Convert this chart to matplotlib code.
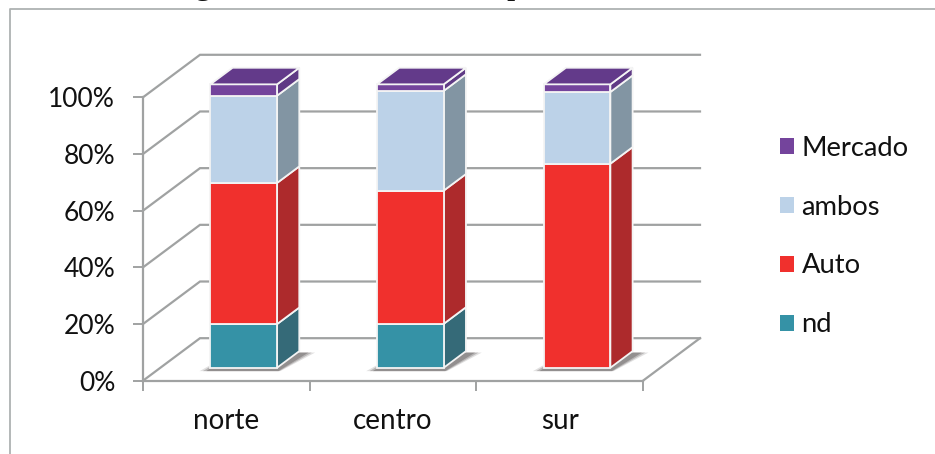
import matplotlib
matplotlib.use('Agg')
import matplotlib.pyplot as plt
from matplotlib.lines import Line2D
from matplotlib.patches import Polygon, Patch

plt.rcParams['font.family'] = ['Lato', 'DejaVu Sans']

regiones = ['norte', 'centro', 'sur']
series = ['nd', 'Auto', 'ambos', 'Mercado']
nd = [15.4, 15.5, 0]
auto = [49.8, 47.0, 72.0]
ambos = [30.8, 35.2, 25.3]
mercado = [4.0, 2.3, 2.7]
valores = [nd, auto, ambos, mercado]

c_frente = ['#3592a6', '#f0302d', '#bcd2e8', '#74449c']
c_lado = ['#356a78', '#ad2a2c', '#8295a3', '#5f3a85']
c_tapa = '#633a8a'
gris = '#a0a2a2'

# proyeccion oblicua: d=0 plano frontal, d=1 pared del fondo
DX = 0.342
DY = 15.0
D0, D1 = 0.305, 0.695
ANCHO = 0.2


def p(x, y, d=0.0):
    return (x + DX * d, y + DY * d)


fig = plt.figure(figsize=(9.35, 4.54), dpi=100)
ax = fig.add_axes([143 / 935, (454 - 380.7) / 454, 500 / 935, 283.4 / 454])
ax.set_xlim(0, 3)
ax.set_ylim(0, 100)
ax.patch.set_visible(False)
for s in ax.spines.values():
    s.set_visible(False)

# marco exterior
fig.add_artist(Line2D([9.5 / 935, 9.5 / 935, 1], [0, 1 - 9 / 454, 1 - 9 / 454],
                      color='#aeb2b2', lw=1.3))

# restos del titulo cortado por el borde superior
for letra, xpos in [('g', 203), ('p', 515)]:
    fig.text(xpos / 935, 1 + 6 / 454, letra, family='Liberation Serif', fontsize=24,
             ha='center', va='baseline', color='#111111')

# paredes y suelo
ticks_y = [0, 20, 40, 60, 80, 100]
for t in ticks_y:
    xs, ys = zip(p(0, t), p(0, t, 1), p(3, t, 1))
    ax.plot(xs, ys, color=gris, lw=1.6, clip_on=False, zorder=1, solid_joinstyle='miter')
ax.plot([0, 0], [0, 100], color=gris, lw=1.6, clip_on=False, zorder=1)
ax.plot([0, 3], [0, 0], color=gris, lw=1.6, clip_on=False, zorder=1)
xs, ys = zip(p(3, 0), p(3, 0, 1))
ax.plot(xs, ys, color=gris, lw=1.6, clip_on=False, zorder=1)

ax.set_yticks(ticks_y)
ax.set_yticklabels([f'{t}%' for t in ticks_y])
ax.set_xticks([0, 1, 2, 3])
ax.set_xticklabels([])
ax.set_xticks([0.5, 1.5, 2.5], labels=regiones, minor=True)
ax.tick_params(axis='y', length=7, width=1.4, color=gris, labelsize=19, pad=13, labelcolor='#111111')
ax.tick_params(axis='x', which='major', length=7, width=1.4, color=gris)
ax.tick_params(axis='x', which='minor', length=0, labelsize=20, pad=20, labelcolor='#111111')

for i in range(len(regiones)):
    x0 = i + 0.5 - ANCHO
    x1 = i + 0.5 + ANCHO

    # sombra sobre el suelo
    for extra, alfa in [(0.065, 0.18), (0.045, 0.3), (0.025, 0.4)]:
        sombra = [p(x0 - extra, -1.2, D0), p(x1 + extra * 0.3, -1.2, D0),
                  p(x1 + extra + 0.03, -0.5, D1), p(x0, -0.5, D1)]
        ax.add_patch(Polygon(sombra, closed=True, fc='#5a5555', ec='none', alpha=alfa,
                             clip_on=False, zorder=2))

    base = 0.0
    for k in range(len(series)):
        v = valores[k][i]
        if v == 0:
            continue
        tope = base + v
        frente = [p(x0, base, D0), p(x1, base, D0), p(x1, tope, D0), p(x0, tope, D0)]
        lado = [p(x1, base, D0), p(x1, base, D1), p(x1, tope, D1), p(x1, tope, D0)]
        ax.add_patch(Polygon(lado, closed=True, fc=c_lado[k], ec='#f4f4f4', lw=1.3,
                             clip_on=False, zorder=3 + k))
        ax.add_patch(Polygon(frente, closed=True, fc=c_frente[k], ec='#f4f4f4', lw=1.3,
                             clip_on=False, zorder=3 + k))
        base = tope
    tapa = [p(x0, base, D0), p(x1, base, D0), p(x1, base, D1), p(x0, base, D1)]
    ax.add_patch(Polygon(tapa, closed=True, fc=c_tapa, ec='#f4f4f4', lw=1.3,
                         clip_on=False, zorder=8))

# leyenda, de arriba abajo en orden inverso al apilado
asas = [Patch(fc=c_frente[k], ec='none', label=series[k]) for k in range(3, -1, -1)]
fig.legend(handles=asas, loc='upper left', bbox_to_anchor=(755 / 935, 1 - 111 / 454),
           frameon=False, fontsize=19.7, labelspacing=1.24, handlelength=0.53,
           handleheight=0.53, handletextpad=0.27, labelcolor='#111111')

plt.savefig('out.png', dpi=100)
